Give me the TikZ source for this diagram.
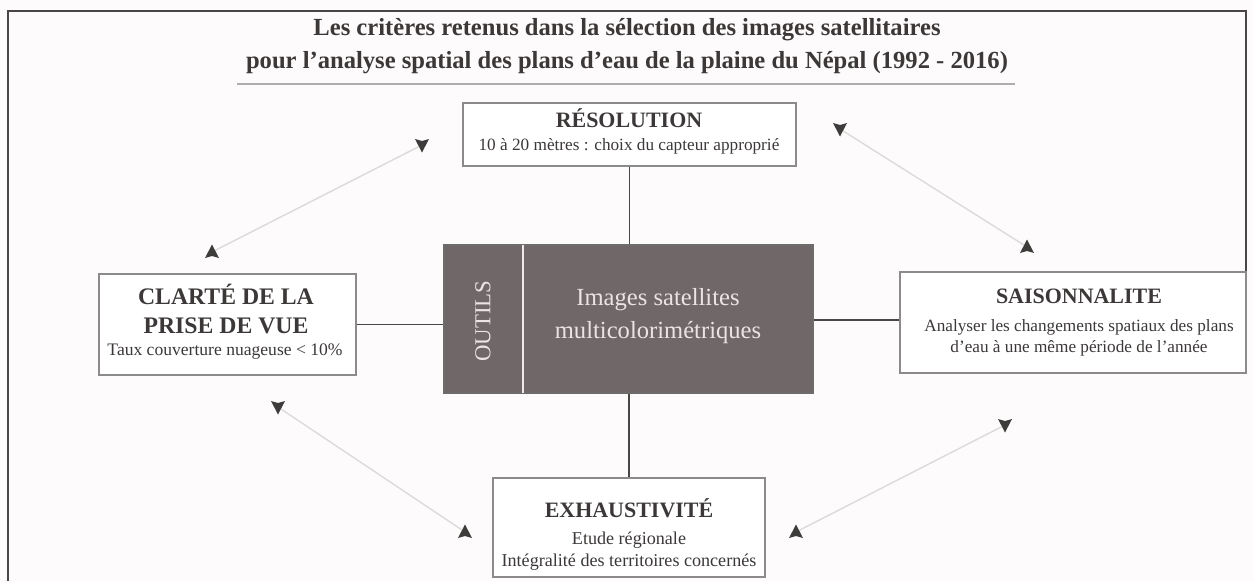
\documentclass[tikz,border=0pt]{standalone}
\usepackage{fontspec}
\setmainfont{Liberation Serif}
\usetikzlibrary{fit}
\definecolor{bg}{HTML}{FDFBFB}
\definecolor{txt}{HTML}{3C3838}
\definecolor{boxline}{HTML}{8C8A8A}
\definecolor{dark}{HTML}{6F6768}
\definecolor{light}{HTML}{ECE4E4}
\definecolor{conn}{HTML}{4A4646}
\definecolor{arrline}{HTML}{DEDADA}
\definecolor{tipcol}{HTML}{3E3B3B}
\begin{document}
\begin{tikzpicture}[x=0.02cm,y=-0.02cm,
  crit/.style={draw=boxline, line width=0.7pt, inner sep=0pt, align=center, text=txt, fill=white},
  ttl/.style={font=\fontsize{12.5}{15}\selectfont\bfseries},
  sub/.style={font=\fontsize{9.5}{12}\selectfont},
  link/.style={draw=conn, line width=0.9pt},
  dbl/.style={draw=arrline, line width=0.8pt},
  downtip/.pic={\fill[tipcol] (0,7.5) -- (-7,-6) -- (0,-4) -- (7,-6) -- cycle;},
  uptip/.pic={\fill[tipcol] (0,-7.5) -- (-7,6) -- (0,4) -- (7,6) -- cycle;}
]
\useasboundingbox (0,0) rectangle (1254,581);
\fill[bg] (0,0) rectangle (1254,581);
% frame
\draw[draw=conn, line width=0.8pt] (8,581) -- (8,11) -- (1246,11) -- (1246,272);

% title
\node[text=txt, font=\fontsize{14}{17}\selectfont\bfseries] (t1) at (627,30) {Les critères retenus dans la sélection des images satellitaires};
\node[text=txt, font=\fontsize{14}{17}\selectfont\bfseries] (t2) at (627,63) {pour l’analyse spatial des plans d’eau de la plaine du Népal (1992 - 2016)};
\draw[draw=boxline!70, line width=0.6pt] (237,84) -- (1015,84);

% centre box
\node[fit={(444,245) (813,393)}, inner sep=0pt, fill=dark, draw=conn!80, line width=0.6pt] (ctr) {};
\draw[draw=light!80, line width=0.6pt] (523,245) -- (523,393);
\node[rotate=90, text=light, font=\fontsize{13}{15}\selectfont] (outils) at (483,321) {OUTILS};
\node[text=light, align=center, font=\fontsize{14}{19}\selectfont] (imgs) at (658,316) {Images satellites\\multicolorimétriques};

% criteria boxes
\node[crit, fit={(463,103) (796,166)}] (res) {};
\node[text=txt, ttl] at (629,118) {RÉSOLUTION};
\node[text=txt, font=\fontsize{9.8}{12}\selectfont] at (629,146) {10 à 20 mètres : choix du capteur approprié};

\node[crit, fit={(99,274) (356,375)}] (clar) {};
\node[text=txt, align=center, font=\fontsize{13.5}{16}\selectfont\bfseries] at (226,309) {CLARTÉ DE LA\\PRISE DE VUE};
\node[text=txt, font=\fontsize{10}{12}\selectfont] at (225,352) {Taux couverture nuageuse < 10\%};

\node[crit, fit={(900,272) (1246,373)}] (sai) {};
\node[text=txt, ttl] at (1079,296) {SAISONNALITE};
\node[text=txt, align=center, font=\fontsize{9.8}{12}\selectfont] at (1079,338) {Analyser les changements spatiaux des plans\\d’eau à une même période de l’année};

\node[crit, fit={(493,478) (765,577)}] (exh) {};
\node[text=txt, ttl] at (629,508) {EXHAUSTIVITÉ};
\node[text=txt, align=center, font=\fontsize{10.3}{12.5}\selectfont] at (629,551) {Etude régionale\\Intégralité des territoires concernés};

% connectors
\draw[link] (res.south) -- (res.south |- ctr.north);
\draw[link] (clar.east) -- (clar.east -| ctr.west);
\draw[link] (sai.west |- 0,320) coordinate (saiL) -- (saiL -| ctr.east);
\draw[link] (exh.north) -- (exh.north |- ctr.south);

% double arrows
\coordinate (ulT) at (422,145); \coordinate (ulB) at (212,252);
\coordinate (urT) at (840,129); \coordinate (urB) at (1027,247);
\coordinate (llT) at (278,407); \coordinate (llB) at (465,532);
\coordinate (lrT) at (1005,425); \coordinate (lrB) at (796,532);
\foreach \a/\b in {ulT/ulB, urT/urB, llT/llB, lrT/lrB}{
  \draw[dbl] (\a) -- (\b);
  \pic at (\a) {downtip};
  \pic at (\b) {uptip};
}
\end{tikzpicture}
\end{document}
